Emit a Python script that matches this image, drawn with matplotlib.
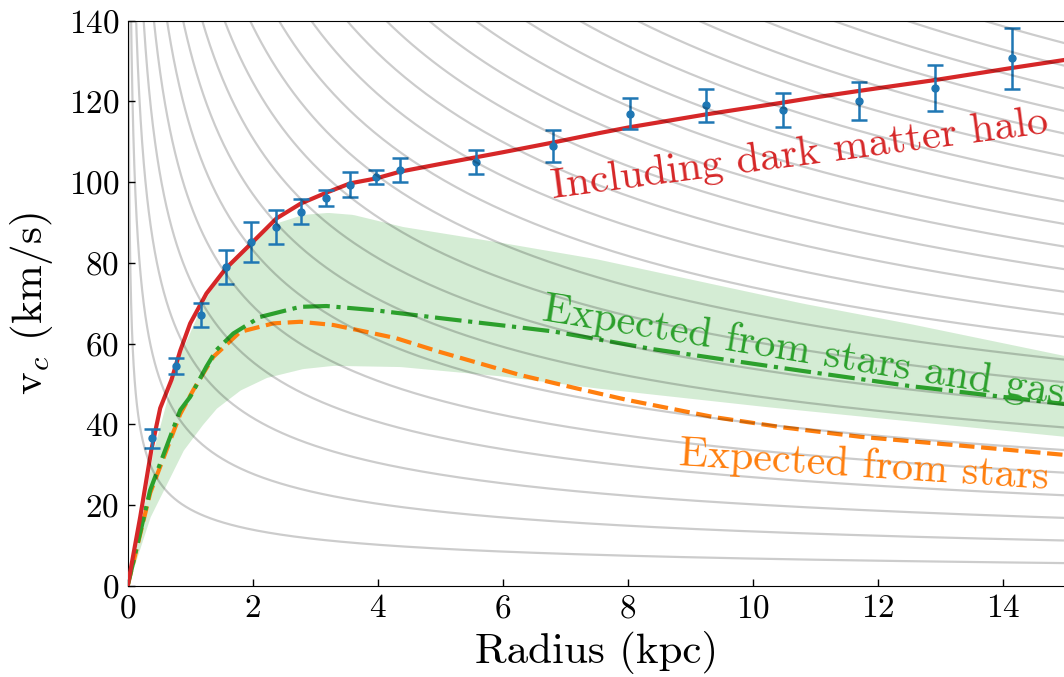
import numpy as np
import matplotlib
matplotlib.use("Agg")
import matplotlib.pyplot as plt

plt.rcParams['font.family'] = 'cmr10'
plt.rcParams['mathtext.fontset'] = 'cm'
plt.rcParams['axes.formatter.use_mathtext'] = True

# observed rotation curve
obs_r = [0.384, 0.773, 1.173, 1.568, 1.968, 2.378, 2.773, 3.178, 3.557, 3.97, 4.357,
         5.57, 6.8, 8.03, 9.26, 10.48, 11.7, 12.92, 14.15]
obs_v = [36.5, 54.4, 67.1, 79.0, 85.1, 88.9, 92.7, 96.1, 99.4, 101.2, 103.0,
         105.0, 109.0, 116.9, 119.0, 117.9, 120.1, 123.3, 130.7]
obs_err = [2.4, 2.0, 3.05, 4.3, 5.0, 4.3, 3.0, 2.0, 3.1, 1.7, 3.0,
           2.9, 4.0, 3.85, 4.2, 4.3, 4.6, 5.7, 7.6]

# model including dark matter halo
halo_r = [0, 0.2, 0.38, 0.52, 0.7, 0.84, 1.0, 1.26, 1.57, 1.97, 2.38, 2.77, 3.18, 3.56,
          3.97, 4.36, 5.0, 6.0, 6.8, 7.56, 8.03, 9.26, 10.48, 11.0, 11.7, 12.92, 14.15, 15.0]
halo_v = [0, 17.0, 33.8, 44.0, 51.0, 58.2, 65.0, 72.4, 78.6, 84.7, 91.0, 94.7, 97.4, 99.7,
          100.9, 102.6, 104.5, 107.4, 109.8, 112.2, 113.6, 116.8, 119.7, 121.0, 122.6, 125.3, 128.3, 130.3]

# stars + gas
gas_r = [0, 0.36, 0.84, 1.0, 1.26, 1.42, 1.69, 2.12, 2.76, 3.18, 3.93, 4.36, 5.0, 6.27,
         6.81, 8.41, 10.76, 12.5, 14.0, 15.0]
gas_v = [0, 23.7, 43.5, 46.8, 54.3, 58.4, 62.5, 66.6, 69.1, 69.3, 68.3, 67.5, 66.3, 64.0,
         63.0, 58.6, 53.3, 49.5, 46.8, 45.0]

# stars only
star_r = [0, 0.36, 0.84, 1.05, 1.37, 1.8, 2.33, 2.76, 3.29, 3.82, 4.3, 5.0, 6.28, 7.18,
          8.0, 9.37, 10.5, 11.72, 13.85, 15.0]
star_v = [0, 23.0, 42.5, 48.5, 56.7, 62.9, 65.0, 65.4, 64.6, 62.9, 61.3, 57.9, 52.2, 48.9,
          46.0, 41.8, 39.2, 36.9, 34.0, 32.4]

# uncertainty band of stars + gas
band_lo_r = [0, 0.36, 0.89, 1.2, 1.42, 1.8, 2.22, 2.8, 3.29, 4.36, 5.96, 7.5, 10.2, 12.4, 15.0]
band_lo_v = [0, 17.1, 33.6, 40.0, 44.0, 48.5, 51.6, 53.8, 54.6, 54.3, 52.0, 49.0, 44.4, 41.0, 37.0]
band_hi_r = [0, 0.2, 0.4, 0.8, 1.2, 1.6, 2.0, 2.4, 2.8, 3.2, 3.6, 4.4, 6.0, 7.5, 9.0, 10.8, 12.5, 15.0]
band_hi_v = [0, 14, 33, 56, 70, 80, 86, 90, 92, 92.5, 92, 89, 85, 81, 76, 70, 65, 57]

# grey reference curves: v = v15 * (15 / r) ** slope, v15 read at the right edge
ref_v15 = [5.6 * k for k in range(1, 26)]
ref_slope = 0.45

x_ticks = [0, 2, 4, 6, 8, 10, 12, 14]
y_ticks = [0, 20, 40, 60, 80, 100, 120, 140]

W, H = 1064, 677
fig = plt.figure(figsize=(W / 100, H / 100), dpi=100)
ax = fig.add_axes([127.7 / W, (H - 585.7) / H, 937.5 / W, 565.0 / H])

grid_r = np.geomspace(1e-4, 15, 1000)
band_lo = np.interp(grid_r, band_lo_r, band_lo_v)
band_hi = np.interp(grid_r, band_hi_r, band_hi_v)
ax.fill_between(grid_r, band_lo, band_hi, color='#2ca02c', alpha=0.2, lw=0, zorder=1)

ax.plot(star_r, star_v, color='#ff7f0e', ls='--', lw=3, zorder=3)
ax.plot(gas_r, gas_v, color='#2ca02c', ls='-.', lw=3, zorder=3)
ax.plot(halo_r, halo_v, color='#d62728', ls='-', lw=3, zorder=3)
ax.errorbar(obs_r, obs_v, yerr=obs_err, fmt='o', color='#1f77b4', ms=5, lw=1.8,
            capsize=6, capthick=1.8, zorder=4)

for v15 in ref_v15:
    ax.plot(grid_r, v15 * (15.0 / grid_r) ** ref_slope, color='black', alpha=0.2,
            lw=1.6, zorder=5)

ax.text(6.8, 96.0, 'Including dark matter halo', color='#d62728', fontsize=30.5,
        rotation=7.5, rotation_mode='anchor', ha='left', va='baseline', zorder=6)
ax.text(6.61, 65.8, 'Expected from stars and gas', color='#2ca02c', fontsize=30.5,
        rotation=-9.2, rotation_mode='anchor', ha='left', va='baseline', zorder=6)
ax.text(8.81, 29.9, 'Expected from stars', color='#ff7f0e', fontsize=30.3,
        rotation=-3.7, rotation_mode='anchor', ha='left', va='baseline', zorder=6)

ax.set_xlim(0, 15)
ax.set_ylim(0, 140)
ax.set_xticks(x_ticks)
ax.set_yticks(y_ticks)
ax.tick_params(direction='in', length=5, width=1, labelsize=24, pad=6)
ax.set_xlabel('Radius (kpc)', fontsize=31, labelpad=6)
ax.set_ylabel(r'v$_c$ (km/s)', fontsize=31, labelpad=10)

fig.savefig('out.png', dpi=100)
